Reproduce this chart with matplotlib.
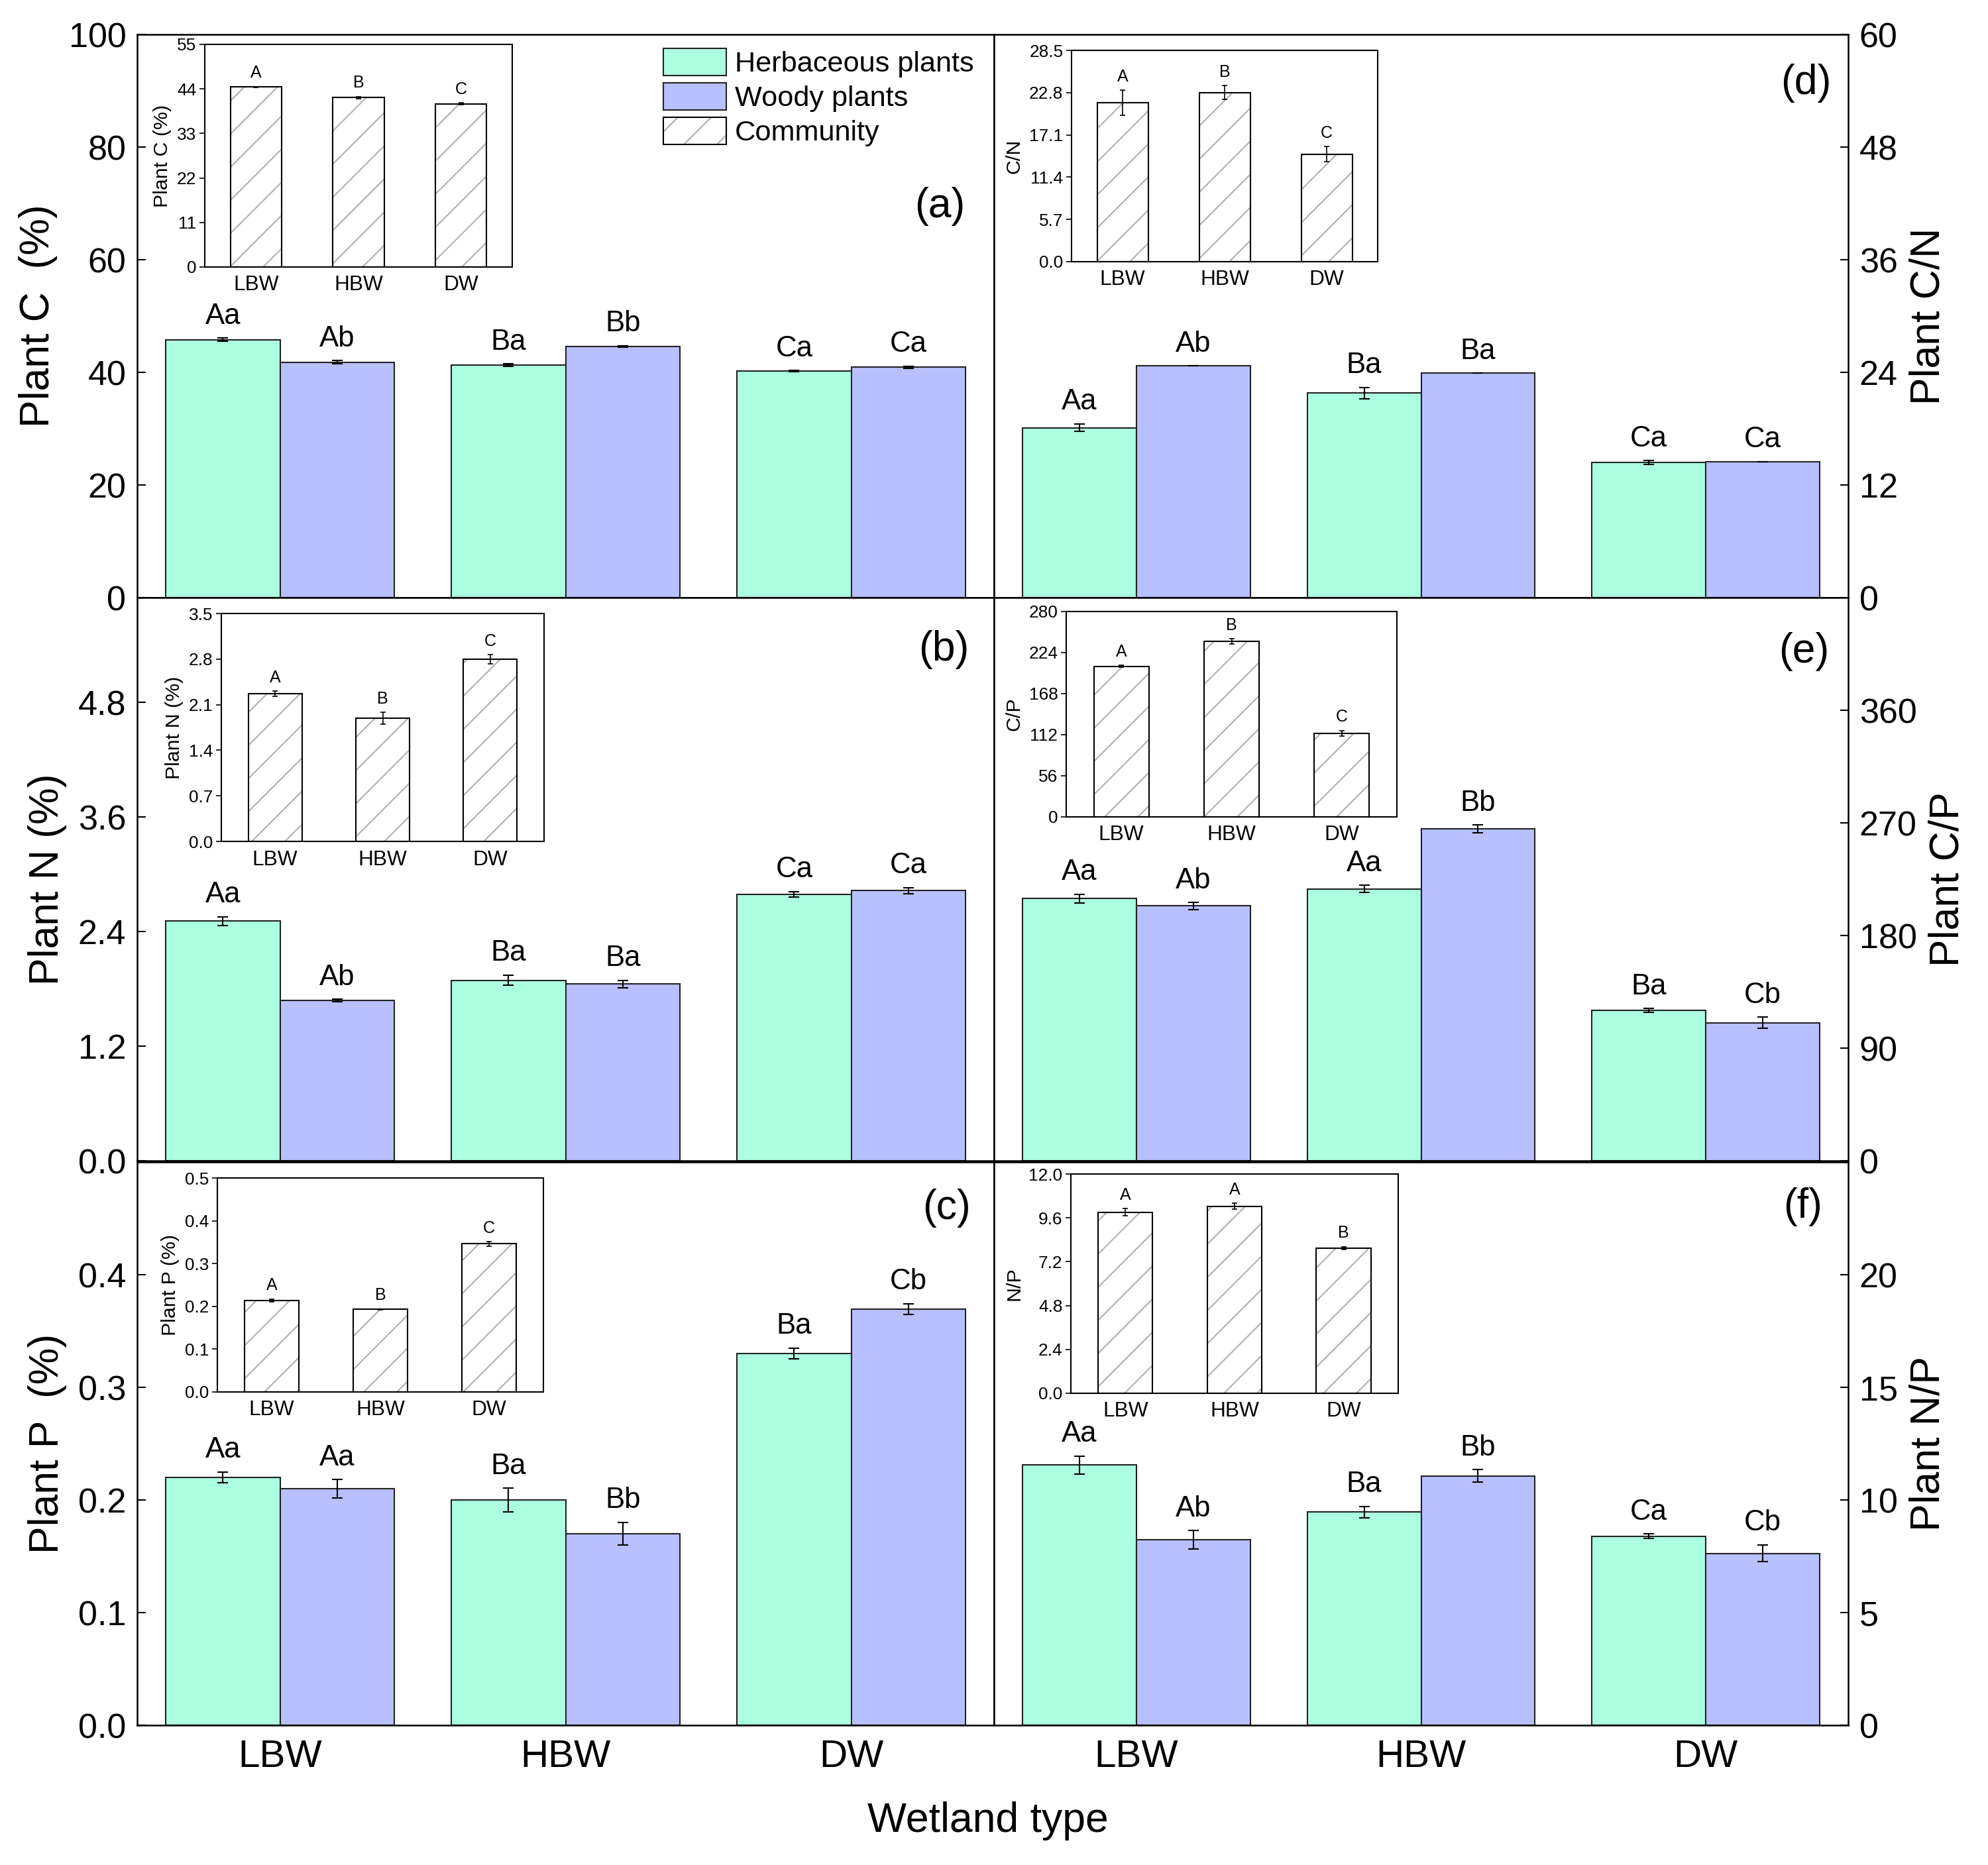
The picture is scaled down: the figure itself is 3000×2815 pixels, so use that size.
import numpy as np
import matplotlib
matplotlib.use('Agg')
import matplotlib.pyplot as plt
from matplotlib.patches import Patch
from matplotlib.legend_handler import HandlerTuple

plt.rcParams['font.family'] = ['Liberation Sans', 'DejaVu Sans']
plt.rcParams['hatch.linewidth'] = 0.5

sites = ['LBW', 'HBW', 'DW']
herb_color = '#adffe2'
wood_color = '#b9c0ff'
hatch_gray = '#b0b0b0'

# (a) plant C
c_herb = [45.8, 41.3, 40.2]
c_herb_err = [0.27, 0.2, 0.12]
c_wood = [41.8, 44.6, 40.9]
c_wood_err = [0.3, 0.15, 0.2]
c_herb_lab = ['Aa', 'Ba', 'Ca']
c_wood_lab = ['Ab', 'Bb', 'Ca']
c_comm = [44.5, 41.9, 40.3]
c_comm_err = [0.1, 0.25, 0.25]
c_comm_lab = ['A', 'B', 'C']

# (b) plant N
n_herb = [2.51, 1.89, 2.79]
n_herb_err = [0.045, 0.054, 0.03]
n_wood = [1.68, 1.85, 2.83]
n_wood_err = [0.012, 0.04, 0.03]
n_herb_lab = ['Aa', 'Ba', 'Ca']
n_wood_lab = ['Ab', 'Ba', 'Ca']
n_comm = [2.27, 1.89, 2.80]
n_comm_err = [0.04, 0.09, 0.07]
n_comm_lab = ['A', 'B', 'C']

# (c) plant P
p_herb = [0.220, 0.200, 0.330]
p_herb_err = [0.0048, 0.0104, 0.0048]
p_wood = [0.210, 0.170, 0.3695]
p_wood_err = [0.008, 0.01, 0.0048]
p_herb_lab = ['Aa', 'Ba', 'Ba']
p_wood_lab = ['Aa', 'Bb', 'Cb']
p_comm = [0.214, 0.193, 0.346]
p_comm_err = [0.003, 0.001, 0.005]
p_comm_lab = ['A', 'B', 'C']

# (d) C/N
cn_herb = [18.1, 21.8, 14.4]
cn_herb_err = [0.4, 0.6, 0.2]
cn_wood = [24.7, 23.9, 14.5]
cn_wood_err = [0, 0, 0]
cn_herb_lab = ['Aa', 'Ba', 'Ca']
cn_wood_lab = ['Ab', 'Ba', 'Ca']
cn_comm = [21.4, 22.8, 14.5]
cn_comm_err = [1.7, 0.95, 1.05]
cn_comm_lab = ['A', 'B', 'C']

# (e) C/P
cp_herb = [209.4, 217.3, 120.2]
cp_herb_err = [3.6, 2.7, 1.5]
cp_wood = [203.6, 265.1, 110.2]
cp_wood_err = [2.7, 3.3, 4.5]
cp_herb_lab = ['Aa', 'Aa', 'Ba']
cp_wood_lab = ['Ab', 'Bb', 'Cb']
cp_comm = [205.3, 239.5, 114.0]
cp_comm_err = [1.5, 3.4, 3.6]
cp_comm_lab = ['A', 'B', 'C']

# (f) N/P
np_herb = [11.55, 9.47, 8.39]
np_herb_err = [0.4, 0.25, 0.11]
np_wood = [8.23, 11.07, 7.63]
np_wood_err = [0.41, 0.27, 0.37]
np_herb_lab = ['Aa', 'Ba', 'Ca']
np_wood_lab = ['Ab', 'Bb', 'Cb']
np_comm = [9.91, 10.24, 7.95]
np_comm_err = [0.19, 0.15, 0.07]
np_comm_lab = ['A', 'A', 'B']

fig = plt.figure(figsize=(10, 2815 / 300), dpi=300)
x = np.arange(1, 4)


def main_panel(rect, herb, herb_err, wood, wood_err, herb_lab, wood_lab,
               ylim, yticks, ticklabels, ylabel, side, tag, tag_pos, bottom):
    ax = fig.add_axes(rect)
    ax.bar(x - 0.2, herb, 0.4, color=herb_color, edgecolor='#222222', lw=0.5, zorder=2)
    ax.bar(x + 0.2, wood, 0.4, color=wood_color, edgecolor='#222222', lw=0.5, zorder=2)
    ax.errorbar(x - 0.2, herb, yerr=herb_err, fmt='none', ecolor='black',
                elinewidth=0.5, capsize=2, capthick=0.5, zorder=3)
    ax.errorbar(x + 0.2, wood, yerr=wood_err, fmt='none', ecolor='black',
                elinewidth=0.5, capsize=2, capthick=0.5, zorder=3)
    for xi, v, e, s in zip(x - 0.2, herb, herb_err, herb_lab):
        ax.annotate(s, (xi, v + e), xytext=(0, 3), textcoords='offset points',
                    ha='center', va='bottom', fontsize=10.5)
    for xi, v, e, s in zip(x + 0.2, wood, wood_err, wood_lab):
        ax.annotate(s, (xi, v + e), xytext=(0, 3), textcoords='offset points',
                    ha='center', va='bottom', fontsize=10.5)
    ax.set_xlim(0.5, 3.5)
    ax.set_ylim(*ylim)
    ax.set_yticks(yticks)
    ax.set_yticklabels(ticklabels)
    ax.tick_params(axis='y', direction='in', length=3, width=0.5, labelsize=12.5, pad=4)
    ax.set_xticks(x)
    if bottom:
        ax.set_xticklabels(sites)
        ax.tick_params(axis='x', length=0, labelsize=14, pad=5)
    else:
        ax.set_xticklabels([])
        ax.tick_params(axis='x', length=0)
    if side == 'right':
        ax.yaxis.tick_right()
        ax.yaxis.set_label_position('right')
    ax.set_ylabel(ylabel, fontsize=15, labelpad=4)
    for sp in ax.spines.values():
        sp.set_linewidth(0.6)
    ax.text(tag_pos[0], tag_pos[1], tag, transform=ax.transAxes, ha='right',
            va='center', fontsize=15)
    return ax


def inset(rect, vals, errs, labs, ylim, yticks, ticklabels, ylabel):
    ax = fig.add_axes(rect)
    ax.bar(x, vals, 0.5, color='white', edgecolor=hatch_gray, lw=0, hatch='//', zorder=2)
    ax.bar(x, vals, 0.5, fill=False, edgecolor='black', lw=0.5, zorder=3)
    ax.errorbar(x, vals, yerr=errs, fmt='none', ecolor='black', elinewidth=0.4,
                capsize=1, capthick=0.4, zorder=4)
    for xi, v, e, s in zip(x, vals, errs, labs):
        ax.annotate(s, (xi, v + e), xytext=(0, 2), textcoords='offset points',
                    ha='center', va='bottom', fontsize=6)
    ax.set_xlim(0.5, 3.5)
    ax.set_ylim(*ylim)
    ax.set_yticks(yticks)
    ax.set_yticklabels(ticklabels)
    ax.set_xticks(x)
    ax.set_xticklabels(sites)
    ax.tick_params(axis='y', direction='out', length=2, width=0.4, labelsize=6.3, pad=1)
    ax.tick_params(axis='x', length=0, labelsize=7.6, pad=3)
    ax.set_ylabel(ylabel, fontsize=7.3, labelpad=2)
    for sp in ax.spines.values():
        sp.set_linewidth(0.5)
    return ax


L, W1 = 207 / 3000, 1293 / 3000
R, W2 = 1500 / 3000, 1289 / 3000
H = 850 / 2815
rows = [1 - 902 / 2815, 1 - 1752 / 2815, 1 - 2604 / 2815]

axa = main_panel([L, rows[0], W1, H], c_herb, c_herb_err, c_wood, c_wood_err,
                 c_herb_lab, c_wood_lab, (0, 100), [0, 20, 40, 60, 80, 100],
                 ['0', '20', '40', '60', '80', '100'], 'Plant C  (%)', 'left',
                 '(a)', (0.966, 0.695), False)
axb = main_panel([L, rows[1], W1, H], n_herb, n_herb_err, n_wood, n_wood_err,
                 n_herb_lab, n_wood_lab, (0, 5.9), [0, 1.2, 2.4, 3.6, 4.8],
                 ['0.0', '1.2', '2.4', '3.6', '4.8'], 'Plant N (%)', 'left',
                 '(b)', (0.971, 0.908), False)
axc = main_panel([L, rows[2], W1, H], p_herb, p_herb_err, p_wood, p_wood_err,
                 p_herb_lab, p_wood_lab, (0, 0.5), [0, 0.1, 0.2, 0.3, 0.4],
                 ['0.0', '0.1', '0.2', '0.3', '0.4'], 'Plant P  (%)', 'left',
                 '(c)', (0.973, 0.918), True)
axd = main_panel([R, rows[0], W2, H], cn_herb, cn_herb_err, cn_wood, cn_wood_err,
                 cn_herb_lab, cn_wood_lab, (0, 60), [0, 12, 24, 36, 48, 60],
                 ['0', '12', '24', '36', '48', '60'], 'Plant C/N', 'right',
                 '(d)', (0.98, 0.914), False)
axe = main_panel([R, rows[1], W2, H], cp_herb, cp_herb_err, cp_wood, cp_wood_err,
                 cp_herb_lab, cp_wood_lab, (0, 450), [0, 90, 180, 270, 360],
                 ['0', '90', '180', '270', '360'], 'Plant C/P', 'right',
                 '(e)', (0.978, 0.904), False)
axf = main_panel([R, rows[2], W2, H], np_herb, np_herb_err, np_wood, np_wood_err,
                 np_herb_lab, np_wood_lab, (0, 25), [0, 5, 10, 15, 20],
                 ['0', '5', '10', '15', '20'], 'Plant N/P', 'right',
                 '(f)', (0.97, 0.921), True)

inset([309 / 3000, 1 - 403 / 2815, 464 / 3000, 336 / 2815], c_comm, c_comm_err,
      c_comm_lab, (0, 55), [0, 11, 22, 33, 44, 55],
      ['0', '11', '22', '33', '44', '55'], 'Plant C (%)')
inset([334 / 3000, 1 - 1270 / 2815, 487 / 3000, 344 / 2815], n_comm, n_comm_err,
      n_comm_lab, (0, 3.5), [0, 0.7, 1.4, 2.1, 2.8, 3.5],
      ['0.0', '0.7', '1.4', '2.1', '2.8', '3.5'], 'Plant N (%)')
inset([328 / 3000, 1 - 2101 / 2815, 492 / 3000, 323 / 2815], p_comm, p_comm_err,
      p_comm_lab, (0, 0.5), [0, 0.1, 0.2, 0.3, 0.4, 0.5],
      ['0.0', '0.1', '0.2', '0.3', '0.4', '0.5'], 'Plant P (%)')
inset([1617 / 3000, 1 - 395 / 2815, 462 / 3000, 319 / 2815], cn_comm, cn_comm_err,
      cn_comm_lab, (0, 28.5), [0, 5.7, 11.4, 17.1, 22.8, 28.5],
      ['0.0', '5.7', '11.4', '17.1', '22.8', '28.5'], 'C/N')
inset([1609 / 3000, 1 - 1233 / 2815, 499 / 3000, 310 / 2815], cp_comm, cp_comm_err,
      cp_comm_lab, (0, 280), [0, 56, 112, 168, 224, 280],
      ['0', '56', '112', '168', '224', '280'], 'C/P')
inset([1616 / 3000, 1 - 2103 / 2815, 494 / 3000, 331 / 2815], np_comm, np_comm_err,
      np_comm_lab, (0, 12), [0, 2.4, 4.8, 7.2, 9.6, 12.0],
      ['0.0', '2.4', '4.8', '7.2', '9.6', '12.0'], 'N/P')

# legend
h_herb = Patch(facecolor=herb_color, edgecolor='#222222', lw=0.5)
h_wood = Patch(facecolor=wood_color, edgecolor='#222222', lw=0.5)
h_comm = (Patch(facecolor='white', edgecolor=hatch_gray, lw=0, hatch='//'),
          Patch(fill=False, edgecolor='black', lw=0.5))
axa.legend([h_herb, h_wood, h_comm], ['Herbaceous plants', 'Woody plants', 'Community'],
           handler_map={tuple: HandlerTuple(ndivide=1)},
           loc='upper left', bbox_to_anchor=(0.614, 0.975), frameon=False,
           fontsize=10.4, handlelength=2.2, handleheight=1.07, labelspacing=0.18,
           handletextpad=0.3, borderpad=0, borderaxespad=0)

fig.text(0.497, 1 - 2748 / 2815, 'Wetland type', ha='center', va='center', fontsize=15)

fig.savefig('out.png', dpi=300)
